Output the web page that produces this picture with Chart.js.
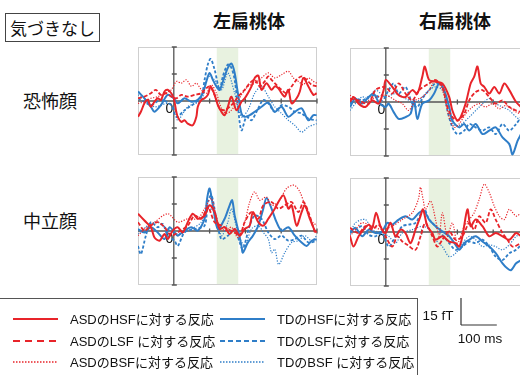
<!DOCTYPE html>
<html>
<head>
<meta charset="utf-8">
<script src="https://cdn.jsdelivr.net/npm/chart.js@4/dist/chart.umd.min.js"></script>
<style>
  html, body { margin: 0; padding: 0; background: #fff; }
  body { width: 520px; height: 375px; overflow: hidden; position: relative;
         font-family: "Liberation Sans", "Noto Sans CJK JP", sans-serif; color: #111; }
  .lbl { position: absolute; white-space: nowrap; line-height: 1; transform: translate(-50%, -50%); }
  .ttl { font-family: "Noto Sans CJK JP", sans-serif; font-size: 18px; font-weight: 700; }
  .row { font-family: "Noto Sans CJK JP", sans-serif; font-size: 18px; }
  .tag { position: absolute; left: 5px; top: 13px; width: 95px; height: 29px; box-sizing: border-box;
         border: 1.5px solid #444; font-family: "Noto Sans CJK JP", sans-serif; font-size: 17px;
         display: flex; align-items: center; justify-content: center; }
  canvas { position: absolute; }
  .legendBox { position: absolute; left: -1px; top: 298px; width: 419px; height: 100px;
               box-sizing: border-box; border: 1px solid #555; }
  .leg { position: absolute; font-size: 13px; white-space: nowrap; line-height: 1; transform: translateY(-50%);
         font-family: "Liberation Sans", "Noto Sans CJK JP", sans-serif; }
  svg { position: absolute; left: 0; top: 0; }
</style>
</head>
<body>

<div class="tag">気づきなし</div>
<div class="lbl ttl" style="left:249px; top:20px;">左扁桃体</div>
<div class="lbl ttl" style="left:455px; top:20px;">右扁桃体</div>
<div class="lbl row" style="left:50px; top:100px;">恐怖顔</div>
<div class="lbl row" style="left:50px; top:220px;">中立顔</div>

<canvas id="fearL"></canvas>
<canvas id="fearR"></canvas>
<canvas id="neutL"></canvas>
<canvas id="neutR"></canvas>

<div class="legendBox"></div>
<svg id="keys" width="520" height="375"></svg>
<div class="leg" style="left:70px; top:319px;">ASDのHSFに対する反応</div>
<div class="leg" style="left:70px; top:341px;">ASDのLSF に対する反応</div>
<div class="leg" style="left:70px; top:362px;">ASDのBSFに対する反応</div>
<div class="leg" style="left:277px; top:319px;">TDのHSFに対する反応</div>
<div class="leg" style="left:277px; top:341px;">TDのLSFに対する反応</div>
<div class="leg" style="left:277px; top:362px;">TDのBSF に対する反応</div>
<div class="lbl" style="left:438px; top:316px; font-size:13.5px;">15 fT</div>
<div class="lbl" style="left:480px; top:339px; font-size:13.5px;">100 ms</div>

<script>
// Time axis (ms) and field axis (fT)
const timeRange = [-100, 400];
const fieldRange = [-30, 30];
const fieldTicks = [-30, -15, 15, 30];
const timeTicks = [100, 200, 300, 400];
const window_ms = [120, 180];

// Fearful face, left amygdala: [ms, fT]
const fearL_asdHSF = [[-100,-8.8],[-92,-6],[-82,-1.3],[-73,0.6],[-64,-3.2],[-54,-0.4],[-45,1.5],[-36,0.6],[-26,5.3],[-17,6.2],[-7,4.3],[0,1.5],[7,-6],[11,-8.8],[21,-11.6],[30,-10.7],[39,-12.6],[53,-13.5],[63,-8.8],[67,-3.2],[77,0.6],[86,1.5],[95,3.4],[103,8.1],[114,3.4],[123,-2.3],[133,-6],[142,-7.9],[151,-3.2],[161,2.4],[175,-5.1],[189,-0.4],[198,1.5],[207,4.3],[217,8.1],[226,12.8],[236,14.1],[245,6.2],[259,9.9],[273,6.2],[282,8.1],[292,7.1],[301,4.3],[310,2.4],[320,6.2],[329,-1.3],[343,1.5],[352,5.3],[362,12.8],[376,8.1],[390,3.4],[399,4.3]];
const fearL_asdLSF = [[-100,1.5],[-82,2.4],[-64,4.3],[-50,6.2],[-36,3.4],[-21,4.3],[-7,2.4],[7,1.5],[21,3.4],[39,2.4],[58,3.4],[77,4.3],[86,6.2],[100,8.1],[114,3.4],[128,-4.1],[142,-5.1],[156,-3.2],[170,-0.4],[179,2.4],[198,6.2],[212,9.9],[226,11.8],[240,8.1],[254,10.9],[264,13.7],[273,11.8],[282,9.9],[301,6.2],[315,4.3],[329,8.1],[343,11.8],[357,13.7],[371,11.8],[385,9],[399,8.1]];
const fearL_asdBSF = [[-100,-1.3],[-82,-0.4],[-64,1.5],[-45,2.4],[-26,4.3],[-7,6.2],[7,10.9],[21,9.9],[35,11.8],[49,8.1],[63,9.9],[77,6.2],[91,4.3],[105,9],[119,4.3],[133,-4.1],[147,-6.9],[161,-5.1],[175,-1.3],[189,3.4],[207,8.1],[226,9.9],[245,12.8],[264,15.6],[282,12.8],[301,14.6],[320,16.5],[334,12.8],[348,10.9],[362,9],[376,12.8],[390,10.9],[399,9.9]];
const fearL_tdHSF = [[-100,5.3],[-82,1.5],[-64,-3.2],[-54,-6],[-36,-2.3],[-17,3.4],[0,1.5],[11,-1.3],[30,1.5],[49,-0.4],[67,0.6],[81,4.3],[91,10.9],[100,15.6],[109,11.8],[119,8.1],[128,6.2],[142,13.7],[151,18.4],[161,20.8],[170,15.6],[179,4.3],[189,-6.9],[198,-8.8],[212,-7.9],[226,-6],[245,-3.2],[264,-0.9],[282,-6],[301,-3.2],[320,-8.8],[338,-6],[357,-4.1],[376,-10.7],[390,-7.9],[399,-7.9]];
const fearL_tdLSF = [[-100,1.5],[-82,-0.4],[-64,-2.3],[-36,0.6],[-7,-2.3],[7,-8.8],[30,-5.1],[58,-1.3],[77,2.4],[86,11.8],[95,20.3],[103,23.4],[114,17.4],[128,6.2],[137,13.7],[151,20.3],[161,18.4],[170,11.8],[179,-3.2],[189,-16.3],[203,-8.8],[217,-10.7],[231,-6],[250,0.6],[264,-1.3],[282,-6],[301,-2.3],[320,-3.2],[338,-6],[357,-6.9],[376,-9.8],[399,-10.7]];
const fearL_tdBSF = [[-100,3.4],[-82,1.5],[-54,-3.2],[-17,-1.3],[2,-4.1],[11,-10.7],[39,-3.2],[77,0.6],[95,13.7],[114,11.8],[133,6.2],[151,15.6],[170,4.3],[189,-8.8],[207,-5.1],[226,4.3],[245,8.1],[264,2.4],[282,-3.2],[301,-6.9],[320,-10.7],[338,-13.5],[357,-17.3],[376,-14.4],[399,-12.6]];

// Fearful face, right amygdala
const fearR_asdHSF = [[-100,0],[-90,2.8],[-76,-0.9],[-57,-2.8],[-38,0.9],[-20,-0.9],[-6,6.6],[0,12.2],[18,8.4],[36,3.8],[55,2.8],[74,6.6],[88,4.7],[102,14.1],[109,19.7],[121,12.2],[139,11.3],[158,10.3],[177,2.8],[186,-4.7],[200,-10.3],[209,-8.4],[223,-0.9],[237,10.3],[247,14.1],[256,19.7],[265,10.3],[275,8.4],[289,4.7],[303,8.4],[317,4.7],[331,10.3],[345,6.6],[364,0],[378,-2.8]];
const fearR_asdLSF = [[-100,1.9],[-76,0.9],[-48,-0.9],[-29,6.6],[-1,8.4],[18,4.7],[36,10.3],[55,4.7],[74,0.9],[93,6.6],[121,10.3],[139,12.2],[158,8.4],[172,-2.8],[186,-8.4],[200,-10.3],[219,-6.6],[233,0.9],[251,5.6],[270,6.6],[289,2.8],[307,-0.9],[326,0.9],[345,-2.8],[364,-4.7],[378,-5.6]];
const fearR_asdBSF = [[-100,3.8],[-85,1.9],[-66,-0.9],[-38,1.9],[-1,3.8],[27,0.9],[46,-0.9],[64,-4.7],[83,0.9],[102,2.8],[121,6.6],[139,12.2],[158,6.6],[177,-8.4],[191,-14.1],[205,-12.2],[223,-6.6],[242,-2.8],[261,-0.9],[279,-2.8],[298,-0.9],[317,-3.8],[336,-1.9],[364,-5.6],[378,-6.6]];
const fearR_tdHSF = [[-100,-2.8],[-85,1.9],[-66,-0.9],[-48,2.8],[-34,4.7],[-20,0],[-1,-2.8],[8,-0.9],[22,-5.6],[36,-9.4],[55,-8.4],[69,-6.6],[79,0.9],[88,-9.4],[102,-0.9],[121,0.9],[135,4.7],[149,10.3],[163,6.6],[177,-2.8],[186,-10.3],[205,-14.1],[219,-12.2],[233,-15.9],[251,-12.2],[270,-17.8],[289,-15.9],[307,-14.1],[326,-19.7],[345,-23.4],[354,-29.1],[368,-21.6],[378,-17.8]];
const fearR_tdLSF = [[-100,-0.9],[-85,1.9],[-66,0.9],[-48,2.8],[-29,3.8],[-10,0.9],[8,6.6],[22,10.3],[36,4.7],[55,8.4],[74,-0.9],[88,-2.8],[102,1.9],[121,6.6],[139,10.3],[158,9.4],[172,-4.7],[186,-14.1],[200,-17.8],[219,-15.9],[233,-12.2],[251,-14.1],[270,-15.9],[289,-14.1],[307,-17.8],[326,-12.2],[345,-15.9],[364,-12.2],[378,-8.4]];
const fearR_tdBSF = [[-100,-4.7],[-85,-0.9],[-66,2.8],[-48,1.9],[-29,6.6],[-1,2.8],[27,4.7],[55,1.9],[83,0],[102,2.8],[121,6.6],[139,8.4],[158,6.6],[177,-2.8],[186,-12.2],[205,-13.1],[233,-8.4],[261,-2.8],[289,1.9],[307,-0.9],[326,-2.8],[345,-4.7],[364,-8.4],[378,-10.3]];

// Neutral face, left amygdala
const neutL_asdHSF = [[-100,9.6],[-82,5.8],[-64,2.1],[-54,-3.6],[-40,-5.4],[-26,-1.7],[-17,-4.5],[-3,0.2],[11,2.1],[25,-0.8],[39,4.9],[53,9.6],[67,6.8],[86,8.6],[100,14.3],[114,10.5],[128,1.1],[142,2.1],[156,-1.7],[170,1.1],[184,-2.6],[198,1.1],[212,3],[221,10.5],[236,4.9],[250,3],[264,6.8],[282,12.4],[306,19.9],[320,12.4],[329,14.3],[343,3],[357,10.5],[366,14.3],[380,6.8],[394,0.2],[399,-0.8]];
const neutL_asdLSF = [[-100,4.9],[-82,0.2],[-64,3],[-45,4.9],[-26,2.1],[-7,-2.6],[11,-0.8],[39,3],[58,8.6],[77,6.8],[95,13.3],[114,4.9],[133,3],[151,1.1],[170,-0.8],[184,-2.6],[198,4.9],[217,10.5],[236,6.8],[250,14.3],[273,16.1],[292,12.4],[310,14.3],[329,16.1],[348,10.5],[362,16.1],[376,10.5],[394,-0.8]];
const neutL_asdBSF = [[-100,-2.6],[-82,1.1],[-54,4.9],[-17,9.6],[11,4.9],[39,6.8],[67,6.8],[86,12.4],[105,18],[123,4.9],[142,0.2],[161,2.1],[179,-3.6],[198,4.9],[212,16.1],[226,21.8],[240,17.1],[259,18.9],[273,14.3],[292,16.1],[315,23.6],[336,25.5],[352,21.8],[366,14.3],[380,6.8],[399,3]];
const neutL_tdHSF = [[-100,1.1],[-82,-0.8],[-64,2.1],[-45,-0.8],[-26,-4.5],[-12,2.1],[2,-0.8],[11,-2.6],[30,0.2],[49,2.1],[67,0.2],[86,6.8],[93,18],[100,23.6],[109,14.3],[123,1.1],[142,6.8],[156,14.3],[163,17.1],[170,8.6],[179,1.1],[189,-8.3],[193,-12],[207,-6.4],[221,-2.6],[236,3],[250,12.4],[259,18.4],[273,12.4],[287,4.9],[301,0.2],[320,2.1],[338,-2.6],[357,-6.4],[371,-8.3],[385,-5.4],[399,-4.5]];
const neutL_tdLSF = [[-100,-8.3],[-92,-12.9],[-78,-2.6],[-64,4.9],[-45,2.1],[-31,3.9],[-17,-2.6],[2,-5.4],[11,-8.3],[30,-0.8],[58,1.1],[86,3],[95,16.1],[105,19.9],[119,6.8],[133,-4.5],[151,-2.6],[170,1.1],[184,-6.4],[193,-10.1],[212,3],[226,8.6],[245,6.8],[264,-0.8],[282,-4.5],[301,-2.6],[320,-5.4],[338,-4.5],[357,-2.6],[376,-6.4],[399,-5.4]];
const neutL_tdBSF = [[-100,-1.7],[-73,3],[-45,4.9],[-17,1.1],[11,-1.7],[49,1.1],[77,4.9],[95,12.4],[114,10.5],[133,-2.6],[151,4.9],[161,12.4],[179,-0.8],[198,-8.3],[217,1.1],[236,3],[250,-0.8],[264,-4.5],[273,-12],[282,-10.1],[293,-18.6],[310,-12],[329,-6.4],[348,-5.4],[366,-2.6],[385,-5.4],[399,-2.6]];

// Neutral face, right amygdala
const neutR_asdHSF = [[-100,-2.4],[-90,-8.1],[-76,-2.4],[-62,1.3],[-48,4.1],[-38,2.3],[-27,10.7],[-15,3.2],[-1,-0.6],[13,5.1],[27,-2.4],[41,1.3],[55,-0.6],[69,-6.2],[83,1.3],[97,8.8],[104,12.6],[116,3.2],[130,-0.6],[139,-4.3],[158,-2.4],[177,-5.3],[195,-6.2],[205,-8.1],[214,-2.4],[228,12.6],[237,3.2],[251,6.9],[270,3.2],[289,-2.4],[307,-0.6],[326,-2.4],[345,-4.3],[364,-0.6],[378,-2.4]];
const neutR_asdLSF = [[-100,2.3],[-76,-0.6],[-57,3.2],[-38,1.3],[-20,4.1],[-1,-2.4],[18,-8.1],[32,-2.4],[46,-5.3],[60,-7.1],[83,-9.9],[97,-2.4],[111,5.1],[130,-2.4],[144,-8.1],[158,-4.3],[177,0.4],[195,-4.3],[214,-2.4],[233,5.1],[247,1.3],[261,8.8],[279,5.1],[293,12.6],[307,6.9],[326,-0.6],[340,-4.3],[354,-8.1],[378,-6.2]];
const neutR_asdBSF = [[-100,-2.4],[-85,1.3],[-66,5.1],[-38,3.2],[-10,1.3],[18,3.2],[46,6.9],[74,10.7],[91,18.2],[97,24.8],[104,18.2],[111,12.6],[125,17.3],[139,6.9],[149,-2.4],[158,10.7],[172,-2.4],[186,5.1],[200,-6.2],[219,3.2],[233,6.9],[247,10.7],[261,18.2],[275,26.6],[289,21.9],[303,14.4],[317,8.8],[331,6.9],[345,12.6],[364,8.8],[378,10.7]];
const neutR_tdHSF = [[-100,-0.6],[-85,2.3],[-66,-2.4],[-48,1.3],[-29,-0.6],[-10,0.4],[4,5.1],[18,4.1],[36,6.9],[55,8.8],[74,6.9],[93,10.7],[107,11.6],[121,6.9],[139,3.2],[158,0.4],[177,-2.4],[195,-7.1],[205,-9.9],[219,-6.2],[233,-4.3],[251,-2.4],[270,-5.3],[289,-8.1],[307,-11.8],[326,-17.4],[340,-20.3],[350,-21.2],[364,-17.4],[378,-15.6]];
const neutR_tdLSF = [[-100,0.4],[-85,1.3],[-66,3.2],[-48,-1.5],[-29,-2.4],[-10,-0.6],[8,-8.1],[27,-2.4],[46,3.2],[64,4.1],[83,5.1],[107,12.6],[121,6.9],[139,3.2],[158,-1.5],[177,-6.2],[195,-9.9],[214,-8.1],[233,-5.3],[251,-6.2],[270,-4.3],[289,-8.1],[307,-13.7],[326,-15.6],[345,-11.8],[364,-9.9],[378,-7.1]];
const neutR_tdBSF = [[-100,-1.5],[-85,5.1],[-57,6.9],[-38,1.3],[-10,-0.6],[8,-2.4],[27,-6.2],[46,-0.6],[74,1.3],[102,3.2],[121,1.3],[139,-4.3],[158,-8.1],[177,-13.7],[195,-11.8],[214,-6.2],[233,-2.4],[251,-4.3],[270,-8.1],[289,-7.1],[307,-8.1],[326,-9.9],[345,-7.1],[364,-2.4],[378,-1.5]];

const RED = '#e8242a';
const BLUE = '#2f7ec8';
const seriesStyles = [
  { color: RED,  width: 2.0, dash: [] },
  { color: RED,  width: 1.8, dash: [4, 2] },
  { color: RED,  width: 1.2, dash: [1.2, 1.5] },
  { color: BLUE, width: 2.0, dash: [] },
  { color: BLUE, width: 1.8, dash: [3, 2] },
  { color: BLUE, width: 1.2, dash: [1.2, 1.5] }
];

const PAD = 6;
const PLOT_W = 179, PLOT_H = 108;

// Frame, analysis window, axes through the origin and the "0" mark
const panelDecor = {
  id: 'panelDecor',
  beforeDatasetsDraw(chart) {
    const { ctx, chartArea: a, scales: { x, y } } = chart;
    const x0 = x.getPixelForValue(0), y0 = y.getPixelForValue(0);
    ctx.save();
    ctx.fillStyle = '#e8f2e0';
    const w1 = x.getPixelForValue(window_ms[0]), w2 = x.getPixelForValue(window_ms[1]);
    ctx.fillRect(w1, a.top, w2 - w1, a.bottom - a.top);

    ctx.strokeStyle = '#cfcfcf';
    ctx.lineWidth = 1;
    ctx.strokeRect(a.left + 0.5, a.top + 0.5, a.right - a.left - 1, a.bottom - a.top - 1);

    ctx.strokeStyle = '#555';
    ctx.lineWidth = 1.3;
    ctx.beginPath();
    ctx.moveTo(a.left, y0); ctx.lineTo(a.right, y0);
    ctx.moveTo(x0, a.top); ctx.lineTo(x0, a.bottom);
    for (const t of timeTicks) {
      const px = x.getPixelForValue(t);
      ctx.moveTo(px, y0 - 2.5); ctx.lineTo(px, y0 + 2.5);
    }
    for (const v of fieldTicks) {
      const py = y.getPixelForValue(v);
      ctx.moveTo(x0 - 2, py); ctx.lineTo(x0 + 3, py);
    }
    ctx.stroke();

    ctx.fillStyle = '#111';
    ctx.font = '14px "Liberation Sans", sans-serif';
    ctx.textAlign = 'center';
    ctx.textBaseline = 'middle';
    ctx.fillText('0', x0 - 4.5, y0 + 8);
    ctx.restore();
  }
};

function makePanel(id, left, top, series) {
  const el = document.getElementById(id);
  el.width = PLOT_W + 2 * PAD;
  el.height = PLOT_H + 2 * PAD;
  el.style.left = (left - PAD) + 'px';
  el.style.top = (top - PAD) + 'px';
  return new Chart(el, {
    type: 'line',
    data: {
      datasets: series.map((d, i) => ({
        data: d,
        borderColor: seriesStyles[i].color,
        borderWidth: seriesStyles[i].width,
        borderDash: seriesStyles[i].dash,
        pointRadius: 0,
        tension: 0.3,
        fill: false
      }))
    },
    options: {
      responsive: false,
      animation: false,
      events: [],
      layout: { padding: PAD },
      scales: {
        x: { type: 'linear', min: timeRange[0], max: timeRange[1], display: false },
        y: { type: 'linear', min: fieldRange[0], max: fieldRange[1], display: false }
      },
      plugins: { legend: { display: false }, tooltip: { enabled: false } }
    },
    plugins: [panelDecor]
  });
}

const c1 = makePanel('fearL', 138, 47, [fearL_asdHSF, fearL_asdLSF, fearL_asdBSF, fearL_tdHSF, fearL_tdLSF, fearL_tdBSF]);
makePanel('fearR', 350, 48, [fearR_asdHSF, fearR_asdLSF, fearR_asdBSF, fearR_tdHSF, fearR_tdLSF, fearR_tdBSF]);
makePanel('neutL', 138, 177, [neutL_asdHSF, neutL_asdLSF, neutL_asdBSF, neutL_tdHSF, neutL_tdLSF, neutL_tdBSF]);
makePanel('neutR', 350, 178, [neutR_asdHSF, neutR_asdLSF, neutR_asdBSF, neutR_tdHSF, neutR_tdLSF, neutR_tdBSF]);

// Legend keys and the 15 fT / 100 ms scale bar
const NS = 'http://www.w3.org/2000/svg';
const svg = document.getElementById('keys');
function line(x1, y1, x2, y2, color, width, dash) {
  const l = document.createElementNS(NS, 'line');
  l.setAttribute('x1', x1); l.setAttribute('y1', y1);
  l.setAttribute('x2', x2); l.setAttribute('y2', y2);
  l.setAttribute('stroke', color); l.setAttribute('stroke-width', width);
  if (dash) l.setAttribute('stroke-dasharray', dash);
  svg.appendChild(l);
}
const keyRows = [319, 341, 362];
line(13, keyRows[0], 58, keyRows[0], RED, 2);
line(13, keyRows[1], 58, keyRows[1], RED, 2, '7 5');
line(13, keyRows[2], 58, keyRows[2], RED, 1.5, '1.5 1.5');
line(220, keyRows[0], 265, keyRows[0], BLUE, 2);
line(220, keyRows[1], 265, keyRows[1], BLUE, 2, '5 3');
line(220, keyRows[2], 265, keyRows[2], BLUE, 1.5, '1.5 1.5');

const sx = c1.scales.x, sy = c1.scales.y;
const barX = 461, barY = 325;
const barW = sx.getPixelForValue(100) - sx.getPixelForValue(0);
const barH = sy.getPixelForValue(0) - sy.getPixelForValue(15);
line(barX, barY - barH, barX, barY, '#333', 1.2);
line(barX, barY, barX + barW, barY, '#333', 1.2);
</script>
</body>
</html>
